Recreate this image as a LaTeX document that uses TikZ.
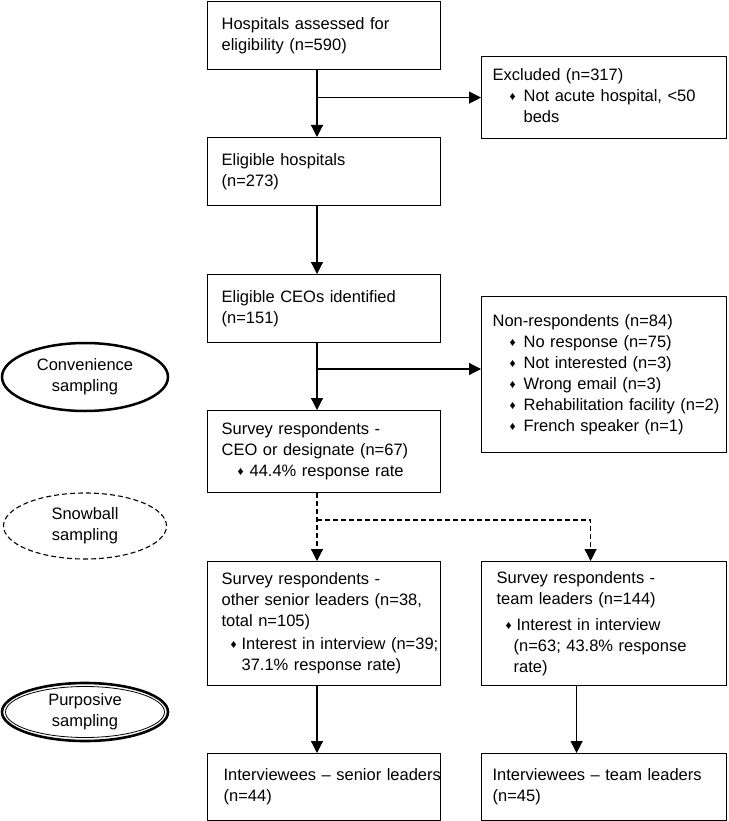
\documentclass[tikz,border=0pt]{standalone}
\usepackage{fontspec}
\setmainfont{Liberation Sans}
\usetikzlibrary{arrows.meta, shapes.geometric, calc}

\newcommand{\dia}{\raisebox{1.2pt}{\fontsize{12}{12}\selectfont ♦}}
\newcommand{\itm}[2]{\hspace*{#1}\makebox[#2][l]{\dia}}
\newcommand{\lines}[1]{\begin{tabular}{@{}l@{}}#1\end{tabular}}

\begin{document}
\begin{tikzpicture}[x=1pt, y=-1pt,
    every node/.style={font=\fontsize{16.5}{21}\selectfont},
    lbox/.style={draw, line width=1.2pt, anchor=north west, align=left,
        minimum width=233pt, text width=205pt, inner xsep=14pt, inner ysep=0pt},
    rbox/.style={draw, line width=1.2pt, anchor=north west, align=left,
        minimum width=245pt, text width=223pt, inner xsep=11pt, inner ysep=0pt},
    oval/.style={ellipse, draw, align=center, inner sep=0pt, minimum width=166pt},
    flow/.style={-{Triangle[length=12pt, width=12pt]}, line width=1.2pt},
    dflow/.style={flow, dash pattern=on 5pt off 3pt}]
        \useasboundingbox (0, 0) rectangle (728, 821);
        % left column
        \node[lbox, minimum height=68pt] (hosp) at (207, 1)
            {\lines{Hospitals assessed for\\eligibility (n=590)}};
        \node[lbox, minimum height=68pt] (elig) at (207, 137)
            {\lines{Eligible hospitals\\(n=273)}};
        \node[lbox, minimum height=68pt] (ceo) at (207, 274)
            {\lines{Eligible CEOs identified\\(n=151)}};
        \node[lbox, minimum height=82pt] (survceo) at (207, 410)
            {\lines{Survey respondents -\\CEO or designate (n=67)\\
            \itm{16pt}{12pt}44.4\% response rate}};
        \node[lbox, minimum height=124pt] (senior) at (207, 561)
            {\lines{Survey respondents -\\other senior leaders (n=38,\\
            total n=105)\\[2pt]
            \itm{9pt}{11pt}Interest in interview (n=39;\\
            \hspace*{20pt}37.1\% response rate)}};
        \node[lbox, minimum height=67pt, inner xsep=16pt, text width=201pt] (intsen)
            at (207, 753) {\lines{Interviewees – senior leaders\\(n=44)}};
        % right column
        \node[rbox, minimum height=82pt] (excl) at (481, 56)
            {\lines{Excluded (n=317)\\
            \itm{17pt}{14pt}Not acute hospital, <50\\
            \hspace*{31pt}beds}};
        \node[rbox, minimum height=156pt] (nonresp) at (481, 296)
            {\lines{Non-respondents (n=84)\\
            \itm{17pt}{14pt}No response (n=75)\\
            \itm{17pt}{14pt}Not interested (n=3)\\
            \itm{17pt}{14pt}Wrong email (n=3)\\
            \itm{17pt}{14pt}Rehabilitation facility (n=2)\\
            \itm{17pt}{14pt}French speaker (n=1)}};
        \node[rbox, minimum height=124pt, inner xsep=15pt, text width=215pt] (team)
            at (481, 561) {\lines{Survey respondents -\\team leaders (n=144)\\[5pt]
            \itm{9pt}{11pt}Interest in interview\\
            \hspace*{17pt}(n=63; 43.8\% response\\
            \hspace*{17pt}rate)}};
        \node[rbox, minimum height=67pt] (intteam) at (481, 753)
            {\lines{Interviewees – team leaders\\(n=45)}};
        % sampling ovals
        \node[oval, line width=2.5pt, minimum height=68pt] (conv) at (85, 377)
            {Convenience\\sampling};
        \node[oval, line width=1.1pt, dash pattern=on 5pt off 3pt,
            minimum height=66pt, minimum width=163pt] (snow) at (85, 526)
            {Snowball\\sampling};
        \node[oval, line width=2.6pt, minimum height=58pt] (purp) at (85, 712)
            {Purposive\\sampling};
        \draw[line width=0.8pt] (purp.center) ellipse [x radius=79.5pt, y radius=25.5pt];
        % connectors
        \coordinate (sp) at (317, 0);
        \coordinate (nb) at (317, 369);
        \coordinate (db) at (317, 520);
        \draw[flow] (hosp.south -| sp) -- (elig.north -| sp);
        \draw[flow] (sp |- excl.west) -- (excl.west);
        \draw[flow] (elig.south -| sp) -- (ceo.north -| sp);
        \draw[flow] (ceo.south -| sp) -- (survceo.north -| sp);
        \draw[flow] (nb) -- (nb -| nonresp.west);
        \draw[dflow] (survceo.south -| sp) -- (senior.north -| sp);
        \draw[dflow] (db) -| ([xshift=-13.5pt]team.north);
        \draw[flow] (senior.south -| sp) -- (intsen.north -| sp);
        \draw[flow] ([xshift=-27.5pt]team.south) -- ([xshift=-27.5pt]intteam.north);
    \end{tikzpicture}
\end{document}
